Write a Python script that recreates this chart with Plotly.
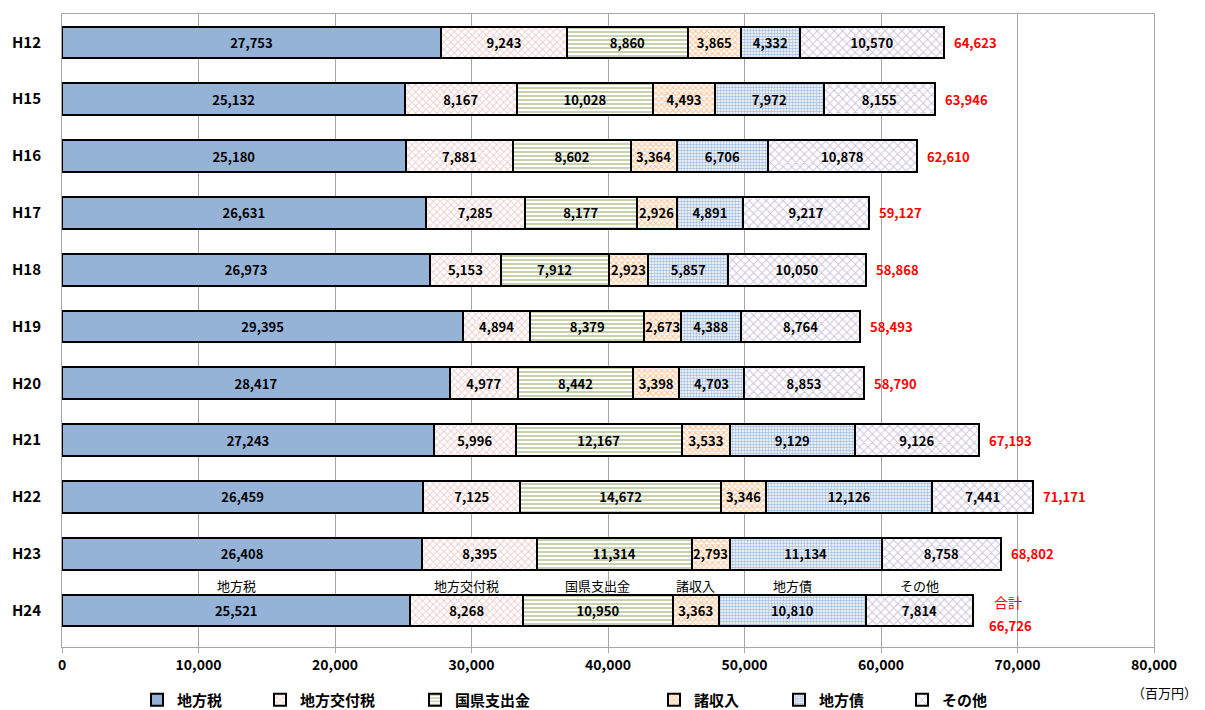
import plotly.graph_objects as go

years = ["H12", "H15", "H16", "H17", "H18", "H19", "H20", "H21", "H22", "H23", "H24"]
series_names = ["地方税", "地方交付税", "国県支出金", "諸収入", "地方債", "その他"]
chihouzei = [27753, 25132, 25180, 26631, 26973, 29395, 28417, 27243, 26459, 26408, 25521]
koufuzei = [9243, 8167, 7881, 7285, 5153, 4894, 4977, 5996, 7125, 8395, 8268]
shishutsukin = [8860, 10028, 8602, 8177, 7912, 8379, 8442, 12167, 14672, 11314, 10950]
shoshuunyu = [3865, 4493, 3364, 2926, 2923, 2673, 3398, 3533, 3346, 2793, 3363]
chihousai = [4332, 7972, 6706, 4891, 5857, 4388, 4703, 9129, 12126, 11134, 10810]
sonota = [10570, 8155, 10878, 9217, 10050, 8764, 8853, 9126, 7441, 8758, 7814]
totals = [64623, 63946, 62610, 59127, 58868, 58493, 58790, 67193, 71171, 68802, 66726]
x_ticks = [0, 10000, 20000, 30000, 40000, 50000, 60000, 70000, 80000]

series_values = [chihouzei, koufuzei, shishutsukin, shoshuunyu, chihousai, sonota]

FONT = "Noto Sans CJK JP"
styles = [
    dict(color="#95B3D7", pattern=dict(shape="")),
    dict(color="white", pattern=dict(shape="x", fgcolor="#D99694", bgcolor="white", size=5, solidity=0.35)),
    dict(color="white", pattern=dict(shape="-", fgcolor="#6F8F34", bgcolor="white", size=4, solidity=0.4)),
    dict(color="white", pattern=dict(shape="x", fgcolor="#F79646", bgcolor="white", size=4, solidity=0.55)),
    dict(color="white", pattern=dict(shape=".", fgcolor="#4F81BD", bgcolor="white", size=3, solidity=0.55)),
    dict(color="white", pattern=dict(shape="x", fgcolor="#9A86B8", bgcolor="white", size=6, solidity=0.3)),
]

# page body has an 8px margin; plot area should sit at page x 62..1154, y 14..647
PX0, PW, PY1, PH = 62, 1092, 647, 633
marker_centers = [156, 279, 434, 673, 798, 921]
legend_x = [(c - 19 - PX0) / PW for c in marker_centers]

fig = go.Figure()
legend_layouts = {}
for k, (name, vals, st) in enumerate(zip(series_names, series_values, styles)):
    lg = "legend" if k == 0 else f"legend{k + 1}"
    fig.add_trace(go.Bar(
        name=name, y=years, x=vals, orientation="h",
        marker=dict(color=st["color"], pattern=st["pattern"],
                    line=dict(color="black", width=2)),
        text=[f"{v:,}" for v in vals],
        textposition="inside", insidetextanchor="middle", textangle=0,
        textfont=dict(family=FONT, size=13, color="black", weight="bold"),
        legend=lg, showlegend=True,
    ))
    legend_layouts[lg] = dict(orientation="h", x=legend_x[k], xanchor="left",
                              y=(PY1 - 700) / PH, yanchor="middle", bgcolor="rgba(0,0,0,0)",
                              itemwidth=30,
                              font=dict(family=FONT, size=15, color="black", weight="bold"))

annotations = []
for i, (yr, tot) in enumerate(zip(years, totals)):
    end = sum(s[i] for s in series_values)
    if yr == "H24":
        annotations.append(dict(x=end, y=yr, text=f"{tot:,}", showarrow=False,
                                xanchor="left", xshift=14, yshift=-15,
                                font=dict(family=FONT, size=13, color="red", weight="bold")))
        annotations.append(dict(x=end, y=yr, text="合計", showarrow=False,
                                xanchor="left", xshift=19, yshift=9,
                                font=dict(family=FONT, size=14, color="red")))
    else:
        annotations.append(dict(x=end, y=yr, text=f"{tot:,}", showarrow=False,
                                xanchor="left", xshift=8,
                                font=dict(family=FONT, size=13, color="red", weight="bold")))

# series labels above last bar
last = len(years) - 1
cum = 0
for name, vals in zip(series_names, series_values):
    center = cum + vals[last] / 2
    cum += vals[last]
    annotations.append(dict(x=center, y=years[last], text=name, showarrow=False,
                            yshift=25, font=dict(family=FONT, size=13, color="black")))

annotations.append(dict(xref="paper", yref="paper", x=(1199 - PX0) / PW, y=(PY1 - 692) / PH,
                        text="（百万円）", showarrow=False, xanchor="right", yanchor="middle",
                        font=dict(family=FONT, size=13, color="black")))

fig.update_layout(
    barmode="stack",
    bargap=0.44,
    width=1197, height=702,
    margin=dict(l=54, r=51, t=6, b=63, autoexpand=False),
    showlegend=True,
    paper_bgcolor="white", plot_bgcolor="white",
    font=dict(family=FONT, size=13, color="black"),
    uniformtext=dict(minsize=13, mode="show"),
    annotations=annotations,
    xaxis=dict(range=[0, 80000], tickvals=x_ticks, ticktext=[f"{v:,}" for v in x_ticks],
               showgrid=True, gridcolor="#A6A6A6", gridwidth=1, automargin=False,
               showline=True, linecolor="#A6A6A6", mirror=True, zeroline=False,
               ticks="outside", ticklen=5, tickcolor="#A6A6A6",
               tickfont=dict(family=FONT, size=14, color="black", weight="bold")),
    yaxis=dict(autorange="reversed", showline=True, linecolor="#A6A6A6", mirror=True,
               ticks="", ticklabelstandoff=17, automargin=False,
               tickfont=dict(family=FONT, size=15, color="black", weight="bold")),
    **legend_layouts,
)

fig.write_html("out.html")
